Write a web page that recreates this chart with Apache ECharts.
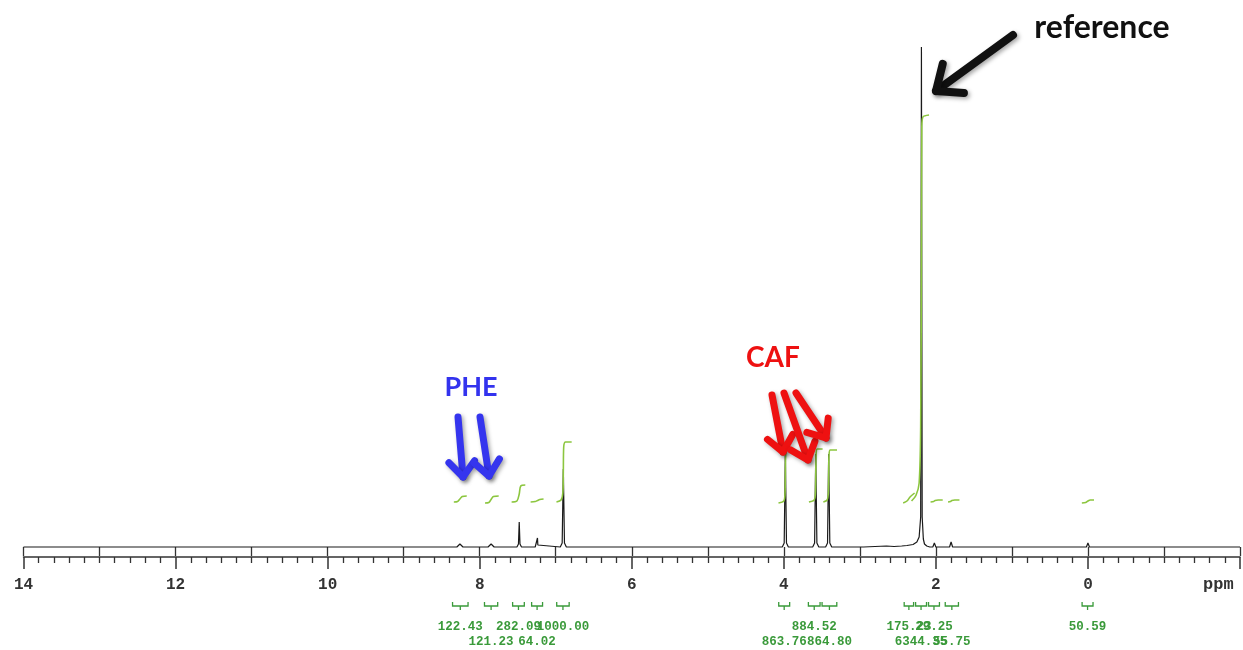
<!DOCTYPE html>
<html>
<head>
<meta charset="utf-8">
<script src="https://cdn.jsdelivr.net/npm/echarts@6/dist/echarts.min.js"></script>
<style>html,body{margin:0;padding:0;background:#fff;overflow:hidden;}#c{width:1243px;height:650px;}</style>
</head>
<body>
<div id="c"></div>
<script>
// ---- DATA ----
// x-axis ticks (ppm)
const tickLabels = ['14','12','10','8','6','4','2','0'];
// 1H NMR spectrum: [ppm, intensity]
const spectrum = [
  [14,0],[8.30,0],[8.28,1],[8.26,3],[8.24,1],[8.22,0],
  [7.89,0],[7.87,1],[7.85,3],[7.83,1],[7.81,0],
  [7.51,0],[7.49,3],[7.48,25],[7.47,3],[7.45,0],
  [7.27,0],[7.245,2],[7.24,9],[7.235,2],[7.21,0],
  [6.94,0],[6.915,4],[6.90,78],[6.885,4],[6.86,0],
  [4.02,0],[3.995,4],[3.98,94],[3.965,4],[3.94,0],
  [3.62,0],[3.595,4],[3.58,93],[3.565,4],[3.54,0],
  [3.45,0],[3.425,4],[3.41,93],[3.395,4],[3.37,0],
  [2.95,0],[2.80,0.5],[2.65,1],[2.55,0.5],[2.45,1],[2.38,1.5],[2.30,2.5],[2.25,5],[2.22,10],[2.20,30],[2.19,500],[2.18,30],[2.165,8],[2.15,3],[2.12,1],[2.08,0],
  [2.04,0],[2.02,4],[2.00,0],
  [1.82,0],[1.80,5],[1.78,0],
  [0.02,0],[0,4],[-0.02,0],[-2,0]
];
// integral curves: [ppm, integral level]
const integral1 = [[8.34,45],[8.29,45.5],[8.26,48],[8.23,50.5],[8.17,51]];
const integral2 = [[7.93,44],[7.88,44.5],[7.85,47.5],[7.82,50.5],[7.75,51]];
const integral3 = [[7.58,45],[7.51,46],[7.48,53],[7.46,61],[7.40,62]];
const integral4 = [[7.33,45],[7.27,45.5],[7.24,46.5],[7.21,47.5],[7.16,48]];
const integral5 = [[6.99,45],[6.93,47],[6.905,55],[6.90,75],[6.895,100],[6.87,105],[6.79,105]];
const integral6 = [[4.07,44],[4.00,46],[3.985,52],[3.98,70],[3.975,92],[3.96,97],[3.92,97]];
const integral7 = [[3.67,45],[3.60,47],[3.585,53],[3.58,72],[3.575,93],[3.56,98],[3.49,98]];
const integral8 = [[3.48,45],[3.43,47],[3.415,53],[3.41,72],[3.405,92],[3.39,97],[3.30,97]];
const integral9 = [[2.43,44],[2.38,46],[2.34,50],[2.28,54]];
const integral10 = [[2.32,46],[2.26,52],[2.22,64],[2.20,120],[2.19,300],[2.185,420],[2.17,430],[2.09,432]];
const integral11 = [[2.07,45],[2.03,45.5],[2.01,46.5],[1.97,47],[1.91,47]];
const integral12 = [[1.84,45],[1.81,45.5],[1.79,46.5],[1.75,47],[1.69,47]];
const integral13 = [[0.08,44],[0.03,44.5],[0.00,46],[-0.03,47],[-0.08,47]];
// integration ranges (ppm) and values printed under the axis
const integralRanges = [[8.37,8.14],[7.95,7.75],[7.58,7.40],[7.33,7.16],[7.00,6.81],
  [4.08,3.91],[3.69,3.51],[3.51,3.29],[2.43,2.28],[2.28,2.11],[2.11,1.94],[1.89,1.69],[0.09,-0.08]];
const integralLabels = ['122.43','121.23','282.09','64.02','1000.00',
  '863.76','884.52','864.80','175.23','6344.35','29.25','55.75','50.59'];
// annotations
const annoPHE = 'PHE', annoCAF = 'CAF', annoRef = 'reference';

// ---- CHART ----
const green = '#3a9a3a';
const integralColor = '#8cc63f';
const chart = echarts.init(document.getElementById('c'), null, {renderer:'canvas', width:1243, height:650});

const integralCurves = [integral1,integral2,integral3,integral4,integral5,integral6,integral7,
  integral8,integral9,integral10,integral11,integral12,integral13];

function arrow(x1,y1,x2,y2,color,w,L){
  const dx=x2-x1, dy=y2-y1, len=Math.hypot(dx,dy), ux=dx/len, uy=dy/len;
  const a=40*Math.PI/180;
  const r1=[ux*Math.cos(a)-uy*Math.sin(a), ux*Math.sin(a)+uy*Math.cos(a)];
  const r2=[ux*Math.cos(-a)-uy*Math.sin(-a), ux*Math.sin(-a)+uy*Math.cos(-a)];
  const style={stroke:color,lineWidth:w,lineCap:'round',lineJoin:'round',fill:null,
    shadowBlur:4,shadowOffsetX:2,shadowOffsetY:2,shadowColor:'rgba(0,0,0,0.35)'};
  return [
    {type:'line',shape:{x1:x1,y1:y1,x2:x2,y2:y2},style:style,z:100},
    {type:'polyline',shape:{points:[[x2-L*r1[0],y2-L*r1[1]],[x2,y2],[x2-L*r2[0],y2-L*r2[1]]]},style:style,z:100}
  ];
}

const series = [{
  type:'line', data:spectrum, showSymbol:false, symbol:'none',
  lineStyle:{color:'#1a1a1a',width:1.2}, z:2, animation:false, silent:true
}];
integralCurves.forEach(c=>series.push({
  type:'line', data:c, showSymbol:false, symbol:'none', smooth:0.3,
  lineStyle:{color:integralColor,width:1.6}, z:3, animation:false, silent:true
}));
series.push({
  type:'custom', coordinateSystem:'cartesian2d', clip:false, animation:false, silent:true,
  data: integralRanges.map((r,i)=>[r[0],r[1],i,0]),
  encode:{x:[0,1], y:3},
  renderItem:function(params, api){
    const a = api.coord([api.value(0), -10]);
    const b = api.coord([api.value(1), -10]);
    const i = api.value(2);
    const yl = a[1];
    const x1=a[0]+1, x2=b[0]-1, xm=(a[0]+b[0])/2;
    const mid = yl+49, top = yl+45, bot = yl+53;
    return {type:'group', children:[
      {type:'polyline', shape:{points:[[x1,top],[x1,mid],[x2,mid],[x2,top]]}, style:{stroke:green,fill:null,lineWidth:1.3}},
      {type:'line', shape:{x1:xm,y1:mid,x2:xm,y2:bot}, style:{stroke:green,lineWidth:1.3}},
      {type:'text', style:{text:integralLabels[i], x:xm, y:yl+(i%2?85:70), align:'center', verticalAlign:'middle',
        font:'bold 12.5px "Liberation Mono"', fill:green}}
    ]};
  }
});

const option = {
  animation:false,
  backgroundColor:'#ffffff',
  grid:{left:23.5, width:1221, top:47, bottom:93, containLabel:false},
  xAxis:[{
    type:'value', position:'bottom', inverse:true, min:-2, max:14, interval:2,
    axisLine:{show:true, onZero:false, lineStyle:{color:'#333',width:1.5}},
    axisTick:{show:true, inside:false, length:12, lineStyle:{color:'#333',width:1.5}},
    minorTick:{show:true, splitNumber:10, length:6, lineStyle:{color:'#333',width:1.3}},
    splitLine:{show:false}, minorSplitLine:{show:false},
    axisLabel:{margin:20, color:'#333', fontFamily:'Liberation Mono', fontWeight:'bold', fontSize:16,
      formatter:function(v){ const s=String(Math.round(v)); return tickLabels.indexOf(s)>=0 ? s : ''; }}
  },{
    type:'value', position:'bottom', inverse:true, min:-2, max:14, interval:1,
    axisLine:{show:false}, axisTick:{show:true, inside:false, length:9, lineStyle:{color:'#333',width:1.3}},
    axisLabel:{show:false}, splitLine:{show:false}
  }],
  yAxis:{type:'value', min:-10, max:500, show:false, splitLine:{show:false}},
  series:series,
  graphic:[
    {type:'text', left:1203, top:576, style:{text:'ppm', font:'bold 17px "Liberation Mono"', fill:'#333'}},
    {type:'text', x:471, y:387, style:{text:annoPHE, font:'bold 27px Lato', fill:'#3333ee', align:'center', verticalAlign:'middle'}, z:100},
    {type:'text', x:773, y:358, style:{text:annoCAF, font:'bold 28px Lato', fill:'#ee1111', align:'center', verticalAlign:'middle'}, z:100},
    {type:'text', x:1102, y:28, style:{text:annoRef, font:'bold 32px Lato', fill:'#111', align:'center', verticalAlign:'middle'}, z:100}
  ].concat(
    arrow(458,417,463,477,'#3535ee',7,20),
    arrow(480,417,489,476,'#3535ee',7,20),
    arrow(772,395,783,452,'#ee1111',7,20),
    arrow(784,393,808,460,'#ee1111',7,20),
    arrow(796,393,826,438,'#ee1111',7,20),
    arrow(1013,35,936,91,'#111111',8,28)
  )
};
chart.setOption(option);
</script>
</body>
</html>
